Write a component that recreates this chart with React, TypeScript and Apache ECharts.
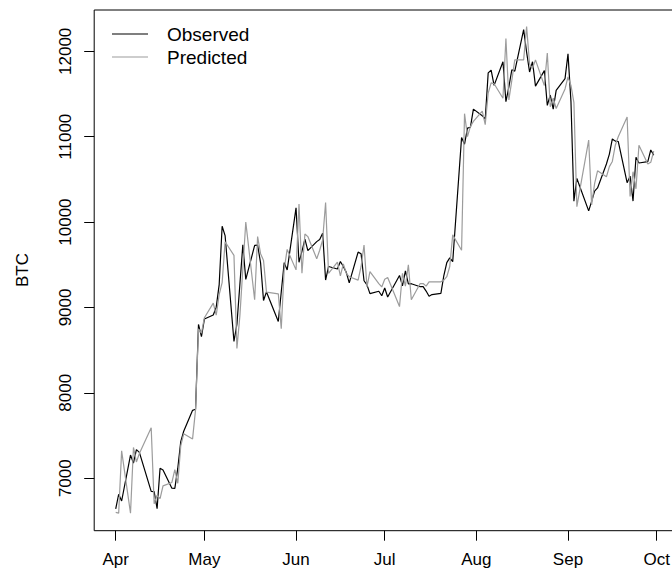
import React, { useEffect, useRef } from "react";
import * as echarts from "echarts";

// Trading days (Apr 1 - Sep 30, 2020)
const dates: string[] = [
  "2020-04-01", "2020-04-02", "2020-04-03", "2020-04-06", "2020-04-07", "2020-04-08", "2020-04-09",
  "2020-04-13", "2020-04-14", "2020-04-15", "2020-04-16", "2020-04-17", "2020-04-20", "2020-04-21",
  "2020-04-22", "2020-04-23", "2020-04-24", "2020-04-27", "2020-04-28", "2020-04-29", "2020-04-30",
  "2020-05-01", "2020-05-04", "2020-05-05", "2020-05-06", "2020-05-07", "2020-05-08", "2020-05-11",
  "2020-05-12", "2020-05-13", "2020-05-14", "2020-05-15", "2020-05-18", "2020-05-19", "2020-05-20",
  "2020-05-21", "2020-05-22", "2020-05-26", "2020-05-27", "2020-05-28", "2020-05-29",
  "2020-06-01", "2020-06-02", "2020-06-03", "2020-06-04", "2020-06-05", "2020-06-08", "2020-06-09",
  "2020-06-10", "2020-06-11", "2020-06-12", "2020-06-15", "2020-06-16", "2020-06-17", "2020-06-18",
  "2020-06-19", "2020-06-22", "2020-06-23", "2020-06-24", "2020-06-25", "2020-06-26", "2020-06-29",
  "2020-06-30",
  "2020-07-01", "2020-07-02", "2020-07-06", "2020-07-07", "2020-07-08", "2020-07-09", "2020-07-10",
  "2020-07-13", "2020-07-14", "2020-07-15", "2020-07-16", "2020-07-17", "2020-07-20", "2020-07-21",
  "2020-07-22", "2020-07-23", "2020-07-24", "2020-07-27", "2020-07-28", "2020-07-29", "2020-07-30",
  "2020-07-31",
  "2020-08-03", "2020-08-04", "2020-08-05", "2020-08-06", "2020-08-07", "2020-08-10", "2020-08-11",
  "2020-08-12", "2020-08-13", "2020-08-14", "2020-08-17", "2020-08-18", "2020-08-19", "2020-08-20",
  "2020-08-21", "2020-08-24", "2020-08-25", "2020-08-26", "2020-08-27", "2020-08-28", "2020-08-31",
  "2020-09-01", "2020-09-02", "2020-09-03", "2020-09-04", "2020-09-08", "2020-09-09", "2020-09-10",
  "2020-09-11", "2020-09-14", "2020-09-15", "2020-09-16", "2020-09-17", "2020-09-18", "2020-09-21",
  "2020-09-22", "2020-09-23", "2020-09-24", "2020-09-25", "2020-09-28", "2020-09-29", "2020-09-30",
];

const observed: number[] = [
  6642, 6812, 6733, 7271, 7176, 7335, 7302, 6845, 6842, 6642, 7116, 7096, 6882, 6880, 7117, 7429, 7550, 7795, 7807, 8801, 8658,
  8864, 8912, 9003, 9268, 9951, 9842, 8601, 8804, 9269, 9733, 9328, 9726, 9729, 9523, 9081, 9182, 8835, 9181, 9525, 9439,
  10167, 9529, 9657, 9800, 9665, 9771, 9796, 9870, 9321, 9480, 9450, 9538, 9480, 9411, 9288, 9648, 9629, 9313, 9264, 9162, 9190, 9137,
  9228, 9123, 9375, 9252, 9428, 9277, 9278, 9243, 9243, 9192, 9132, 9151, 9164, 9374, 9525, 9581, 9536, 10990, 10912, 11100, 11111, 11323,
  11246, 11205, 11747, 11779, 11601, 11878, 11410, 11584, 11784, 11768, 12254, 11991, 11758, 11878, 11592, 11774, 11366, 11488, 11323, 11542, 11680,
  11970, 11414, 10245, 10511, 10131, 10242, 10363, 10400, 10680, 10796, 10974, 10948, 10944, 10462, 10538, 10246, 10760, 10692, 10709, 10844, 10784,
];

const predicted: number[] = [
  6600, 6590, 7320, 6590, 7360, 7190, 7290, 7590, 6700, 6800, 6760, 6910, 6950, 7100, 6940, 7380, 7520, 7460, 7800, 8750, 8700,
  8880, 9050, 8910, 9150, 9290, 9770, 9610, 8520, 8900, 9450, 10000, 9090, 9830, 9630, 9550, 9180, 9160, 8750, 9450, 9680,
  9440, 10210, 9400, 9860, 9830, 9570, 9670, 9790, 10230, 9400, 9530, 9370, 9510, 9400, 9360, 9320, 9480, 9730, 9240, 9420, 9280, 9240,
  9330, 9350, 9010, 9400, 9250, 9500, 9090, 9280, 9280, 9250, 9300, 9300, 9300, 9320, 9360, 9480, 9850, 9670, 11270, 11000, 11120, 11180,
  11300, 11140, 11510, 11630, 11620, 11450, 12150, 11430, 11660, 11900, 11900, 12290, 11850, 11800, 11900, 11600, 11980, 11350, 11450, 11330, 11560,
  11700, 11600, 11400, 10180, 10960, 10200, 10450, 10600, 10530, 10650, 10710, 10900, 11000, 11230, 10300, 10590, 10390, 10900, 10680, 10700, 10830,
];

const monthTicks: string[] = ["2020-04-01", "2020-05-01", "2020-06-01", "2020-07-01", "2020-08-01", "2020-09-01", "2020-10-01"];
const monthLabels: string[] = ["Apr", "May", "Jun", "Jul", "Aug", "Sep", "Oct"];
const yTicks: number[] = [7000, 8000, 9000, 10000, 11000, 12000];

const ts = (s: string) => {
  const [y, m, d] = s.split("-").map(Number);
  return Date.UTC(y, m - 1, d);
};

const FONT = "'Liberation Sans', Arial, Helvetica, sans-serif";

export default function App() {
  const ref = useRef<HTMLDivElement>(null);

  useEffect(() => {
    if (!ref.current) return;
    const chart = echarts.init(ref.current, null, { renderer: "svg" });
    const DAY = 86400000;
    const t0 = ts("2020-04-01");
    const tickTs = monthTicks.map(ts);

    chart.setOption({
      animation: false,
      backgroundColor: "#ffffff",
      grid: {
        left: 94.2,
        top: 10,
        right: -3.3,
        bottom: 39.3,
        show: true,
        borderColor: "#000",
        borderWidth: 1,
        backgroundColor: "transparent",
        containLabel: false,
        outerBoundsMode: "none",
      },
      xAxis: {
        type: "value",
        min: t0 - 7.28 * DAY,
        max: t0 + 189.3 * DAY,
        axisLine: { show: false },
        splitLine: { show: false },
        axisTick: {
          show: true,
          length: 10,
          customValues: tickTs,
          lineStyle: { color: "#000", width: 1 },
        },
        axisLabel: {
          customValues: tickTs,
          formatter: (v: number) => {
            const i = tickTs.indexOf(v);
            return i >= 0 ? monthLabels[i] : "";
          },
          color: "#000",
          fontSize: 17,
          fontFamily: FONT,
          margin: 20,
        },
      },
      yAxis: {
        type: "value",
        min: 6385,
        max: 12484,
        axisLine: { show: false },
        splitLine: { show: false },
        axisTick: {
          show: true,
          length: 10,
          customValues: yTicks,
          lineStyle: { color: "#000", width: 1 },
        },
        axisLabel: {
          customValues: yTicks,
          formatter: (v: number) => String(v),
          rotate: 90,
          color: "#000",
          fontSize: 17,
          fontFamily: FONT,
          margin: 20,
        },
      },
      series: [
        {
          name: "Observed",
          type: "line",
          data: dates.map((d, i) => [ts(d), observed[i]]),
          showSymbol: false,
          symbol: "none",
          lineStyle: { color: "#000", width: 1.2 },
          itemStyle: { color: "#000" },
          emphasis: { disabled: true },
          silent: true,
          z: 2,
        },
        {
          name: "Predicted",
          type: "line",
          data: dates.map((d, i) => [ts(d), predicted[i]]),
          showSymbol: false,
          symbol: "none",
          lineStyle: { color: "#9c9c9c", width: 1.2 },
          itemStyle: { color: "#9c9c9c" },
          emphasis: { disabled: true },
          silent: true,
          z: 3,
        },
      ],
      graphic: [
        {
          type: "text",
          x: 22,
          y: 270,
          rotation: Math.PI / 2,
          style: {
            text: "BTC",
            fill: "#000",
            fontSize: 17,
            fontFamily: FONT,
            align: "center",
            verticalAlign: "middle",
          },
        },
        {
          type: "line",
          shape: { x1: 112, y1: 34, x2: 148, y2: 34 },
          style: { stroke: "#000", lineWidth: 1.2 },
        },
        {
          type: "text",
          x: 167,
          y: 34,
          style: {
            text: "Observed",
            fill: "#000",
            fontSize: 19,
            fontFamily: FONT,
            align: "left",
            verticalAlign: "middle",
          },
        },
        {
          type: "line",
          shape: { x1: 112, y1: 57, x2: 148, y2: 57 },
          style: { stroke: "#9c9c9c", lineWidth: 1.2 },
        },
        {
          type: "text",
          x: 167,
          y: 57,
          style: {
            text: "Predicted",
            fill: "#000",
            fontSize: 19,
            fontFamily: FONT,
            align: "left",
            verticalAlign: "middle",
          },
        },
      ],
    });

    return () => chart.dispose();
  }, []);

  return (
    <div
      ref={ref}
      style={{ position: "fixed", left: 0, top: 0, width: 672, height: 570, background: "#fff" }}
    />
  );
}
